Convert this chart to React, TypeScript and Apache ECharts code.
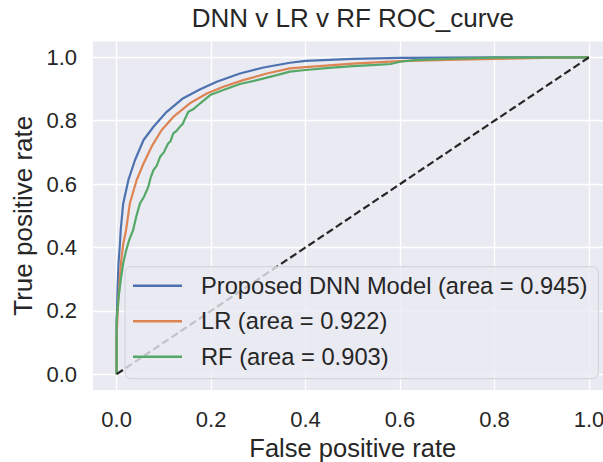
import React, { useEffect, useRef } from "react";
import * as echarts from "echarts";

const titleText = "DNN v LR v RF ROC_curve";
const xAxisName = "False positive rate";
const yAxisName = "True positive rate";
const tickValues = [0, 0.2, 0.4, 0.6, 0.8, 1.0];

const dnnName = "Proposed DNN Model (area = 0.945)";
const lrName = "LR (area = 0.922)";
const rfName = "RF (area = 0.903)";

// [false positive rate, true positive rate]
const dnnPoints: [number, number][] = [
  [0, 0], [0, 0.15], [0.002, 0.27], [0.004, 0.35], [0.007, 0.41], [0.0087, 0.455],
  [0.014, 0.539], [0.025, 0.613], [0.039, 0.676], [0.057, 0.739], [0.078, 0.781],
  [0.106, 0.828], [0.141, 0.871], [0.177, 0.899], [0.212, 0.923], [0.261, 0.949],
  [0.311, 0.968], [0.367, 0.983], [0.4, 0.989], [0.5, 0.995], [0.6, 0.998],
  [0.7, 0.999], [0.8, 1.0], [1.0, 1.0],
];

const lrPoints: [number, number][] = [
  [0, 0], [0, 0.12], [0.003, 0.22], [0.009, 0.35], [0.014, 0.41], [0.02, 0.455],
  [0.028, 0.539], [0.0425, 0.613], [0.057, 0.665], [0.074, 0.718], [0.095, 0.77],
  [0.12, 0.812], [0.155, 0.855], [0.191, 0.886], [0.226, 0.907], [0.268, 0.928],
  [0.318, 0.949], [0.367, 0.965], [0.4, 0.969], [0.5, 0.98], [0.6, 0.988],
  [0.7, 0.992], [0.8, 0.995], [0.9, 0.998], [1.0, 1.0],
];

const rfPoints: [number, number][] = [
  [0, 0], [0, 0.17], [0.004, 0.24], [0.009, 0.3], [0.014, 0.35], [0.02, 0.39],
  [0.027, 0.425], [0.035, 0.455], [0.042, 0.5], [0.0495, 0.539], [0.058, 0.56],
  [0.067, 0.591], [0.072, 0.62], [0.078, 0.644], [0.085, 0.658], [0.092, 0.686],
  [0.1, 0.7], [0.109, 0.728], [0.114, 0.735], [0.12, 0.76], [0.127, 0.768],
  [0.134, 0.781], [0.14, 0.79], [0.145, 0.807], [0.152, 0.828], [0.162, 0.836],
  [0.177, 0.855], [0.198, 0.881], [0.226, 0.897], [0.261, 0.916], [0.297, 0.928],
  [0.339, 0.944], [0.367, 0.955], [0.4, 0.96], [0.45, 0.967], [0.5, 0.972],
  [0.55, 0.976], [0.58, 0.979], [0.6, 0.986], [0.63, 0.991], [0.7, 0.995],
  [0.8, 0.999], [1.0, 1.0],
];

const diagonalPoints: [number, number][] = [[0, 0], [1, 1]];

const FONT = "'Liberation Sans', Arial, sans-serif";
const TEXT = "#262626";

export default function App() {
  const ref = useRef<HTMLDivElement>(null);
  useEffect(() => {
    if (!ref.current) return;
    const chart = echarts.init(ref.current, undefined, { renderer: "svg" });
    const axisCommon = {
      type: "value" as const,
      min: -0.05,
      max: 1.05,
      nameLocation: "middle" as const,
      axisLine: { show: false },
      axisTick: { show: false, customValues: tickValues },
      splitLine: { show: true, lineStyle: { color: "#ffffff", width: 1.3 } },
    };
    chart.setOption({
      animation: false,
      backgroundColor: "#ffffff",
      textStyle: { fontFamily: FONT },
      title: {
        text: titleText,
        left: 352.8,
        top: 5,
        padding: 0,
        textAlign: "center",
        textStyle: { fontFamily: FONT, fontSize: 26, fontWeight: "normal", color: TEXT },
      },
      grid: {
        left: 93,
        top: 41.5,
        width: 519.6,
        height: 348.5,
        outerBoundsMode: "none",
        containLabel: false,
        show: true,
        backgroundColor: "#EAEAF2",
        borderWidth: 0,
      },
      xAxis: {
        ...axisCommon,
        name: xAxisName,
        nameGap: 40,
        nameTextStyle: { fontFamily: FONT, fontSize: 25.5, lineHeight: 27, color: TEXT },
        axisLabel: {
          customValues: tickValues,
          formatter: (v: number) => v.toFixed(1),
          fontFamily: FONT,
          fontSize: 22,
          color: TEXT,
          margin: 18,
        },
      },
      yAxis: {
        ...axisCommon,
        name: yAxisName,
        nameGap: 56,
        nameTextStyle: { fontFamily: FONT, fontSize: 26, color: TEXT },
        axisLabel: {
          customValues: tickValues,
          formatter: (v: number) => v.toFixed(1),
          fontFamily: FONT,
          fontSize: 22,
          color: TEXT,
          margin: 16,
        },
      },
      legend: {
        data: [dnnName, lrName, rfName],
        orient: "vertical",
        left: 125,
        top: 266.7,
        padding: [6, 11, 9, 8],
        itemWidth: 49,
        itemHeight: 2.5,
        itemGap: 9.5,
        icon: "rect",
        backgroundColor: "rgba(234,234,242,0.8)",
        borderColor: "#d0d0d8",
        borderWidth: 1,
        borderRadius: 6,
        textStyle: {
          fontFamily: FONT,
          fontSize: 23.7,
          lineHeight: 26,
          color: TEXT,
          padding: [0, 0, 0, 14],
        },
      },
      series: [
        {
          name: dnnName,
          type: "line",
          data: dnnPoints,
          showSymbol: false,
          symbol: "none",
          color: "#4C72B0",
          lineStyle: { width: 2.2, color: "#4C72B0" },
        },
        {
          name: lrName,
          type: "line",
          data: lrPoints,
          showSymbol: false,
          symbol: "none",
          color: "#DD8452",
          lineStyle: { width: 2.2, color: "#DD8452" },
        },
        {
          name: rfName,
          type: "line",
          data: rfPoints,
          showSymbol: false,
          symbol: "none",
          color: "#55A868",
          lineStyle: { width: 2.2, color: "#55A868" },
        },
        {
          name: "chance",
          type: "line",
          data: diagonalPoints,
          showSymbol: false,
          symbol: "none",
          lineStyle: { width: 2.2, color: "#262626", type: [7.5, 3.5] },
        },
      ],
    });
    return () => chart.dispose();
  }, []);
  return <div ref={ref} style={{ width: 603, height: 462, position: "absolute", left: 0, top: 0 }} />;
}
